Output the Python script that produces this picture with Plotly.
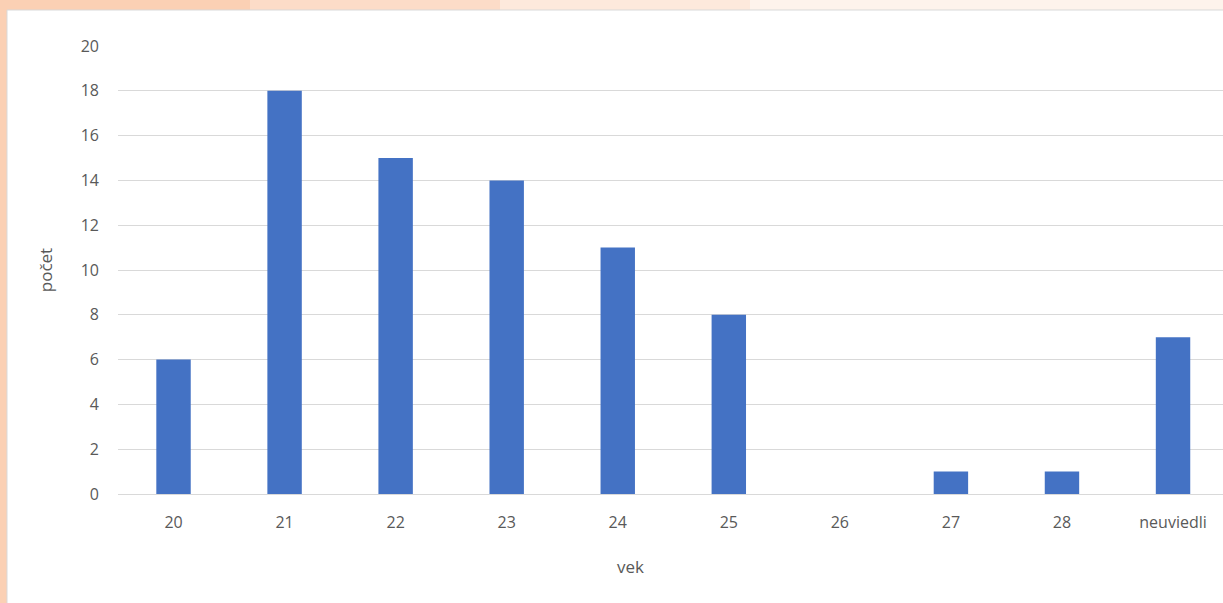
import plotly.graph_objects as go

categories = ["20", "21", "22", "23", "24", "25", "26", "27", "28", "neuviedli"]
counts = [6, 18, 15, 14, 11, 8, 0, 1, 1, 7]
y_ticks = [0, 2, 4, 6, 8, 10, 12, 14, 16, 18, 20]

W, H = 1223, 603
L, R, T, B = 118, 0, 46, 109
pw, ph = W - L - R, H - T - B

def px_x(p):
    return (p - L) / pw

def px_y(p):
    return (H - B - p) / ph

fig = go.Figure()
fig.add_trace(go.Bar(
    x=categories, y=counts, width=0.31,
    marker=dict(color="#4472C4", line=dict(width=0)),
))

shapes = [
    dict(type="rect", xref="paper", yref="paper", x0=px_x(0), x1=px_x(W), y0=px_y(H), y1=px_y(0),
         fillcolor="#FBD0B4", line=dict(width=0), layer="below"),
    dict(type="rect", xref="paper", yref="paper", x0=px_x(250), x1=px_x(W), y0=px_y(10), y1=px_y(0),
         fillcolor="#FCDCC8", line=dict(width=0), layer="below"),
    dict(type="rect", xref="paper", yref="paper", x0=px_x(500), x1=px_x(W), y0=px_y(10), y1=px_y(0),
         fillcolor="#FDE9DC", line=dict(width=0), layer="below"),
    dict(type="rect", xref="paper", yref="paper", x0=px_x(750), x1=px_x(W), y0=px_y(10), y1=px_y(0),
         fillcolor="#FEF3EC", line=dict(width=0), layer="below"),
    dict(type="rect", xref="paper", yref="paper", x0=px_x(7), x1=px_x(W + 2), y0=px_y(H + 2), y1=px_y(10),
         fillcolor="white", line=dict(width=1, color="#D9D9D9"), layer="below"),
]

fig.update_layout(
    width=W, height=H,
    margin=dict(l=L, r=R, t=T, b=B),
    paper_bgcolor="#FBD0B4",
    plot_bgcolor="rgba(0,0,0,0)",
    showlegend=False,
    shapes=shapes,
    font=dict(family="Open Sans", color="#595959", size=16),
    annotations=[dict(text="vek", xref="paper", yref="paper", x=px_x(630), y=px_y(566),
                      xanchor="center", yanchor="middle", showarrow=False,
                      font=dict(size=17, color="#595959"))],
)
fig.update_xaxes(
    type="category", range=[-0.5, 9.45],
    showgrid=False, showline=True, linecolor="#D9D9D9", linewidth=1.3,
    ticks="", ticklabelstandoff=14,
    tickfont=dict(size=16, color="#595959"),
)
fig.update_yaxes(
    range=[0, 20], tickvals=y_ticks,
    showgrid=True, gridcolor="#D9D9D9", gridwidth=1.3,
    zeroline=False, showline=False, ticks="", ticklabelstandoff=18,
    tickfont=dict(size=16, color="#595959"),
    title=dict(text="počet", font=dict(size=17, color="#595959"), standoff=23),
)

fig.write_html("out.html", config={"displayModeBar": False},
               post_script="document.body.style.margin='0';")
